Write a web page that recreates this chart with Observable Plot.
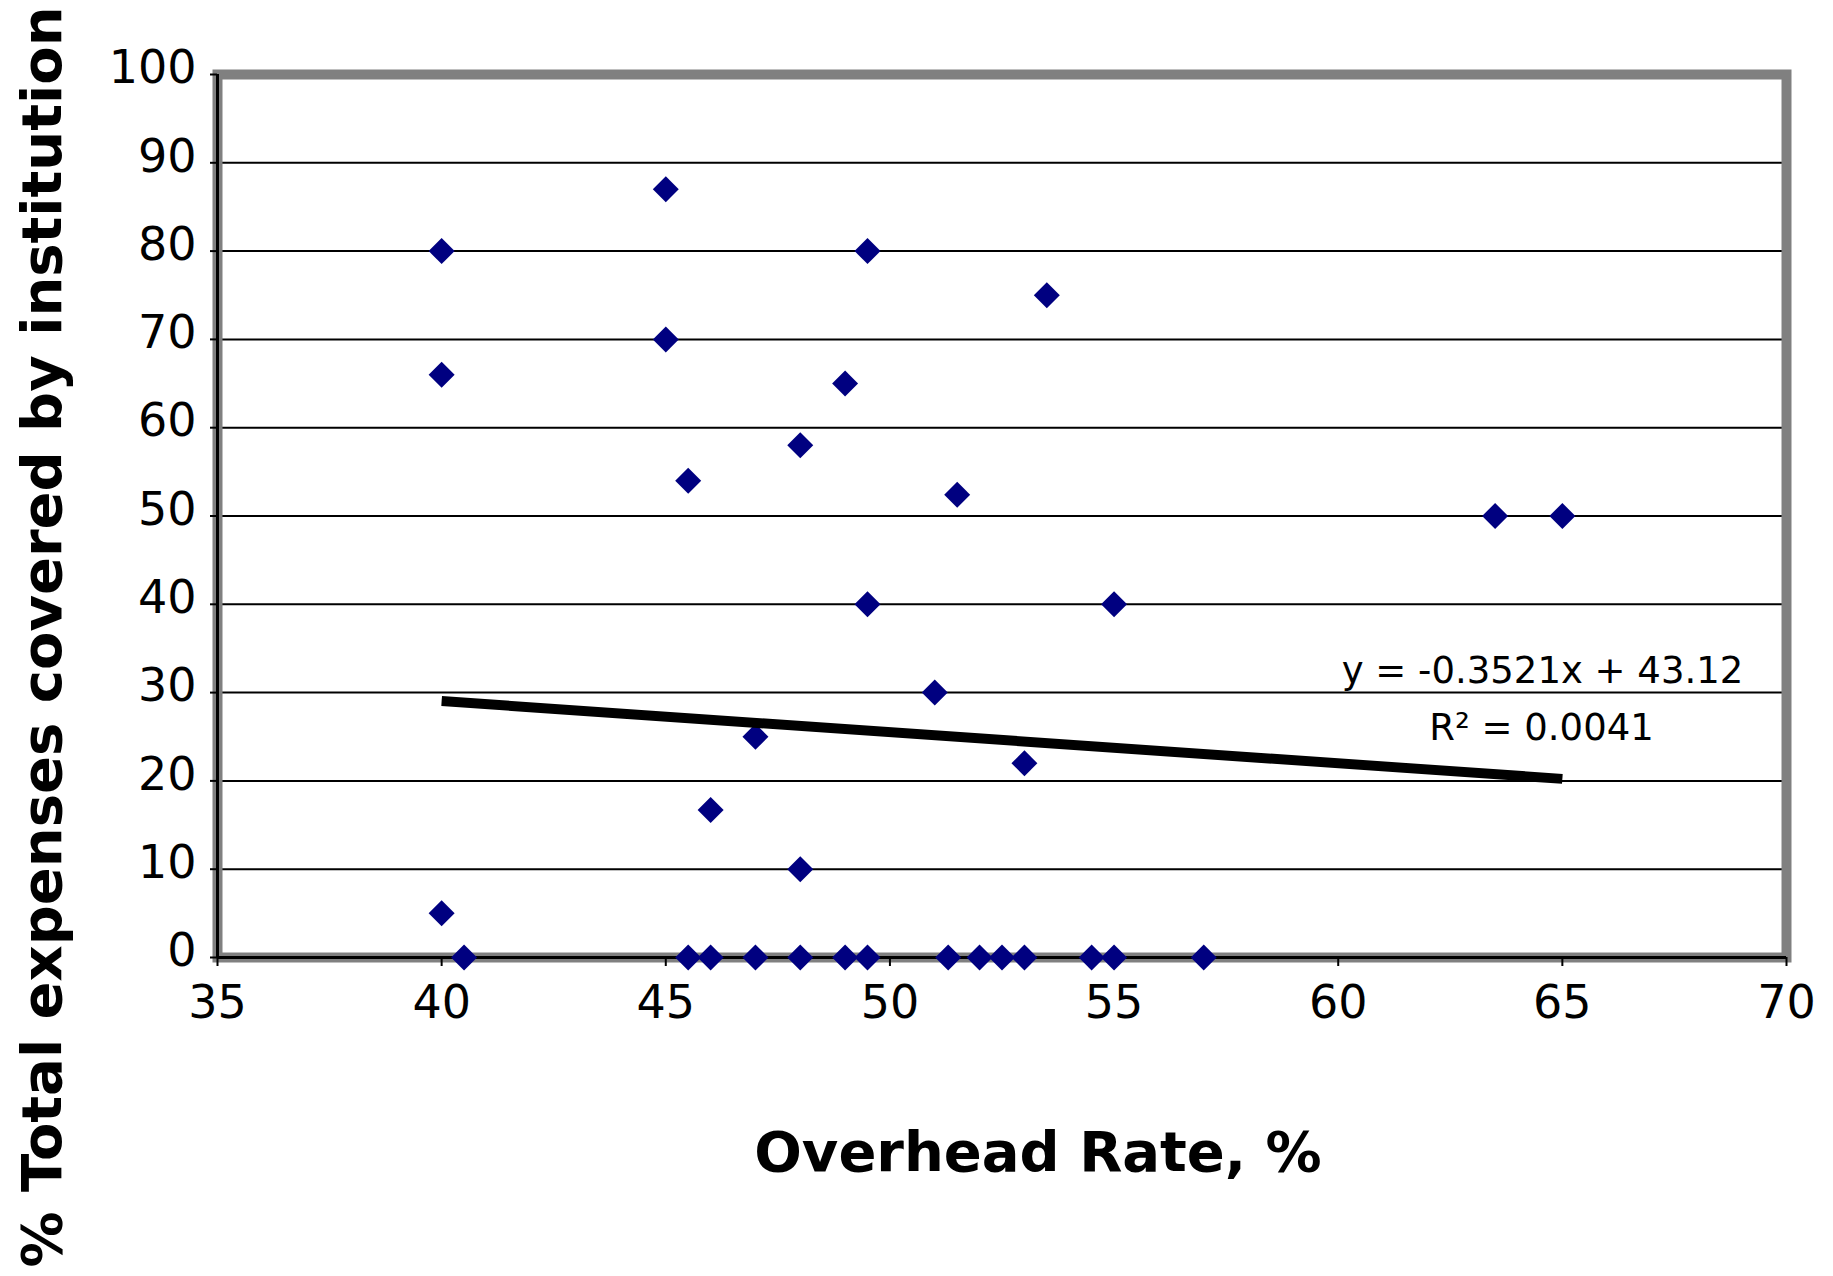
<!DOCTYPE html>
<html>
<head>
<meta charset="utf-8">
<script src="https://cdn.jsdelivr.net/npm/d3@7"></script>
<script src="https://cdn.jsdelivr.net/npm/@observablehq/plot@0.6"></script>
<style>
  html, body { margin: 0; padding: 0; background: #ffffff; }
</style>
</head>
<body>
<div id="chart"></div>
<script>
// Overhead rate (%) of each institution
const overhead = [40, 40, 40, 40.5, 45, 45, 45.5, 45.5, 46, 46, 47, 47, 48, 48, 48, 49, 49,
  49.5, 49.5, 49.5, 51, 51.3, 51.5, 52, 52.5, 53, 53, 53.5, 54.5, 55, 55, 57, 63.5, 65];
// % of total expenses covered by institution
const covered = [80, 66, 5, 0, 87, 70, 54, 0, 16.7, 0, 25, 0, 58, 10, 0, 65, 0,
  80, 40, 0, 30, 0, 52.4, 0, 0, 22, 0, 75, 0, 40, 0, 0, 50, 50];

const xTicks = [35, 40, 45, 50, 55, 60, 65, 70];
const yTicks = [0, 10, 20, 30, 40, 50, 60, 70, 80, 90, 100];

// Linear trend line as drawn (endpoints)
const trendX = [40, 65];
const trendY = [29.04, 20.23];
const equationText = "y = -0.3521x + 43.12";
const r2Text = "R\u00B2 = 0.0041";

const xTitle = "Overhead Rate, %";
const yTitle = "% Total expenses covered by institution";

const points = overhead.map((x, i) => ({x, y: covered[i]}));
const trend = trendX.map((x, i) => ({x, y: trendY[i]}));
const gridValues = yTicks.filter(v => v > yTicks[0] && v < yTicks[yTicks.length - 1]);

const font = "'DejaVu Sans', Verdana, sans-serif";

const chart = Plot.plot({
  width: 1833,
  height: 1276,
  marginLeft: 217,
  marginRight: 47,
  marginTop: 74,
  marginBottom: 319,
  style: {fontFamily: font, fontSize: "46px", color: "#000", background: "#ffffff", overflow: "visible"},
  x: {domain: [35, 70]},
  y: {domain: [0, 100]},
  marks: [
    Plot.ruleY(gridValues, {stroke: "#000", strokeWidth: 2}),
    Plot.frame({stroke: "#808080", strokeWidth: 10}),
    Plot.ruleX([xTicks[0]], {stroke: "#000", strokeWidth: 3}),
    Plot.ruleY([yTicks[0]], {stroke: "#000", strokeWidth: 3}),
    // y ticks (no text)
    Plot.axisY(yTicks, {tickSize: 7, strokeWidth: 2, fill: null, label: null}),
    // y tick labels
    Plot.axisY(yTicks, {tickSize: 0, tickPadding: 21, fontSize: 46, dy: -6, label: null, tickFormat: d => d}),
    Plot.axisX(xTicks, {tickSize: 9, tickPadding: 19, strokeWidth: 2, fontSize: 46, label: null, tickFormat: d => d}),
    Plot.dot(points, {x: "x", y: "y", symbol: "diamond2", r: 11.7, fill: "#000080", stroke: null}),
    Plot.line(trend, {x: "x", y: "y", stroke: "#000", strokeWidth: 10, strokeLinecap: "butt"}),
    Plot.text([xTitle], {frameAnchor: "bottom", text: d => d, fontSize: 56, fontWeight: "bold",
      dx: 36, dy: 213, lineAnchor: "bottom", textAnchor: "middle"}),
    Plot.text([yTitle], {frameAnchor: "left", text: d => d, fontSize: 56, fontWeight: "bold", rotate: -90,
      dx: -157, dy: 121, lineAnchor: "bottom", textAnchor: "middle"}),
    Plot.text([equationText], {frameAnchor: "top-right", text: d => d, fontSize: 37,
      dx: -244, dy: 608, lineAnchor: "bottom", textAnchor: "middle"}),
    Plot.text([r2Text], {frameAnchor: "top-right", text: d => d, fontSize: 37,
      dx: -245, dy: 665, lineAnchor: "bottom", textAnchor: "middle"})
  ]
});

document.getElementById("chart").appendChild(chart);
</script>
</body>
</html>
